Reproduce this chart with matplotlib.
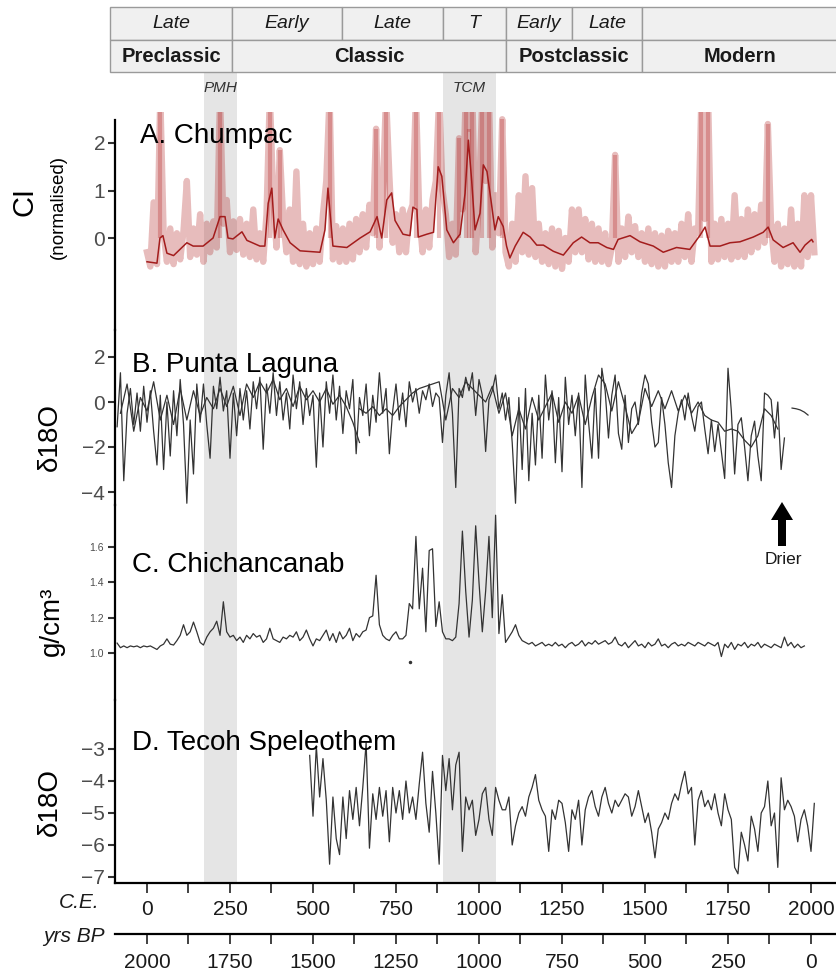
import numpy as np
import matplotlib
matplotlib.use('Agg')
import matplotlib.pyplot as plt
from matplotlib.patches import Rectangle, FancyArrow
from matplotlib.transforms import blended_transform_factory

plt.rcParams['font.family'] = ['Liberation Sans', 'DejaVu Sans']

# ---------------- data ----------------
# period table (C.E. years of the boundaries)
sub_edges = [256, 587, 892, 1081, 1280, 1491]
sub_labels = ['Late', 'Early', 'Late', 'T', 'Early', 'Late', '']
era_edges = [256, 1081, 1491]
era_labels = ['Preclassic', 'Classic', 'Postclassic', 'Modern']
event_labels = ['PMH', 'TCM']
event_spans = [(172, 271), (892, 1051)]

ce_ticks = [0, 250, 500, 750, 1000, 1250, 1500, 1750, 2000]
ce_minor = [125, 375, 625, 875, 1125, 1375, 1625, 1875]
ce_labels = ['0', '250', '500', '750', '1000', '1250', '1500', '1750', '2000']
bp_labels = ['2000', '1750', '1500', '1250', '1000', '750', '500', '250', '0']

# A. Chumpac CI, raw series every 10 years from 0 CE
chumpac_raw = [
    -0.3, -0.6, 0.75, -0.55, 3.0, 0.1, -0.5, 0.2, -0.55, 0.1,
    -0.45, 0.15, 1.2, -0.4, 0.2, -0.35, 0.5, -0.5, 0.3, -0.3,
    0.35, -0.2, 3.0, 0.3, 0.8, -0.3, 0.35, -0.25, 0.4, -0.35,
    0.3, -0.4, 0.6, -0.45, 0.1, -0.5, 0.5, 3.0, 0.9, -0.2,
    1.85, 0.4, -0.3, 0.6, -0.5, 1.4, -0.55, 0.3, -0.6, 0.1,
    -0.55, 0.2, -0.5, 0.5, 1.2, 3.0, -0.45, 0.25, -0.5, 0.2,
    -0.5, 0.3, -0.45, 0.4, -0.3, 0.5, -0.2, 0.7, 0.1, 2.3,
    -0.2, 0.9, 3.0, 1.3, -0.1, 0.5, -0.3, 0.6, -0.3, 0.5,
    0.7, 3.0, 0.5, -0.3, 0.6, -0.2, 0.8, 1.2, 3.0, 1.0,
    0.5, -0.4, 0.3, -0.35, 2.1, 0.6, 3.0, 2.3, 3.0, -0.3,
    0.8, 3.0, 1.2, 3.0, -0.2, 0.9, 0.1, 2.5, -0.3, -0.6,
    0.3, -0.5, 0.9, -0.3, 1.3, -0.35, 1.05, -0.4, 0.3, -0.5,
    0.1, -0.55, 0.2, -0.6, 0.15, -0.65, 0.0, -0.5, 0.6, -0.3,
    0.6, -0.3, 0.4, -0.45, 0.3, -0.5, 0.2, -0.5, 0.1, -0.55,
    -0.2, 1.75, -0.5, 0.2, -0.4, 0.45, -0.3, 0.25, -0.4, 0.1,
    -0.5, 0.2, -0.55, 0.1, -0.6, 0.05, -0.6, 0.15, -0.5, 0.1,
    -0.5, 0.3, -0.4, 0.5, -0.5, 0.2, 0.1, 3.0, 0.4, 3.0,
    -0.5, 0.3, -0.45, 0.4, -0.4, 0.3, -0.45, 0.9, -0.4, 0.4,
    -0.4, 0.6, -0.3, 0.5, -0.2, 0.7, -0.1, 2.4, 0.2, -0.5,
    0.3, -0.6, 0.2, -0.55, 0.6, -0.6, 0.3, -0.6, 0.9, -0.4,
    0.9, -0.3,
]
chumpac_smooth_years = [
    0, 30, 39, 48, 60, 80, 120, 139, 169, 199, 220, 235, 244, 259, 286, 301,
    340, 355, 365, 376, 385, 395, 410, 431, 461, 521, 536, 545, 560, 602, 642,
    672, 693, 707, 722, 737, 747, 771, 792, 801, 813, 817, 843, 863, 877, 888,
    903, 923, 943, 958, 968, 978, 988, 1003, 1013, 1024, 1036, 1048, 1058, 1073,
    1083, 1093, 1109, 1133, 1154, 1174, 1194, 1224, 1254, 1284, 1309, 1334, 1359,
    1385, 1405, 1419, 1455, 1485, 1525, 1555, 1595, 1635, 1666, 1681, 1696, 1726,
    1756, 1786, 1826, 1856, 1871, 1886, 1916, 1946, 1967, 1982, 2002, 2006,
]
chumpac_smooth = [
    -0.5, -0.53, 0.0, 0.05, -0.32, -0.37, -0.1, -0.17, -0.17, 0.0, 0.45, 0.45,
    0.0, -0.02, 0.13, -0.05, -0.17, -0.17, 0.73, 1.05, 0.0, 0.4, 0.17, -0.1,
    -0.27, -0.3, 0.17, 1.05, -0.17, -0.2, 0.0, 0.13, 0.45, 0.0, 0.8, 0.95, 0.37,
    0.08, 0.05, 0.65, 0.6, 0.02, 0.08, 0.12, 1.5, 1.3, 0.17, -0.1, 0.08, 0.94,
    2.06, 1.2, 0.17, 0.52, 1.54, 1.4, 0.8, 0.17, 0.45, 0.24, -0.17, -0.42, -0.17,
    0.12, 0.02, -0.15, -0.15, -0.28, -0.36, -0.1, 0.02, -0.1, -0.1, -0.2, -0.24,
    -0.03, 0.05, -0.08, -0.17, -0.3, -0.2, -0.24, 0.06, 0.23, -0.17, -0.17, -0.1,
    -0.08, 0.02, 0.12, 0.23, -0.04, -0.2, -0.1, -0.3, -0.15, -0.03, -0.08,
]

# B. Punta Laguna d18O: core 1 every 10 yr from -90, core 2 every 20 yr from -80,
# core 3 every 20 yr from 640, plus a short modern piece
pl_core1 = [
    -1.1, 1.3, -3.5, -0.5, 0.6, -1.0, 0.4, -1.3, 0.7, -0.9,
    0.5, -1.3, -2.8, 0.3, -3.0, 0.0, -2.4, 0.5, -1.5, 1.0,
    -1.0, -4.5, -0.8, -3.2, 0.8, -0.9, 0.8, -1.0, -2.5, 0.7,
    -0.3, 1.1, -0.4, 0.5, -2.5, 0.4, -1.5, 0.6, -0.8, 0.5,
    -1.2, 0.9, -0.3, 1.1, -2.1, 0.8, -0.5, 1.3, -0.6, 0.9,
    -0.8, 0.4, -1.2, 1.2, -0.3, 0.9, -1.0, 0.6, -0.6, 0.3,
    -2.9, 0.4, -2.0, 0.9, -0.5, 1.2, -0.8, 0.7, -1.4, 0.5,
    -0.3, 1.0, -2.3, 0.2, -0.6, 0.8, -1.5, 0.3, -0.9, 1.3,
    -0.5, 0.6, -2.3, -0.4, 0.8, -0.8, 0.4, -1.1, 0.9, 0.0,
    0.6, -0.5, 0.5, 0.1, 0.8, -0.2, 0.4, 0.2, -1.8, 0.3,
    1.3, -0.5, -3.8, 0.6, 0.2, 1.1, 0.5, 1.3, -0.6, 1.0,
    0.3, -2.2, 0.1, 0.5, 1.2, -0.3, 0.4, -0.8, 0.2, -1.8,
    -4.5, 0.2, -3.0, 0.6, -3.5, -0.5, -2.8, 0.3, -2.5, 1.2,
    -0.8, 0.5, -2.7, 0.2, -3.1, 1.1, -1.0, 0.3, -1.5, 0.4,
    -3.8, 1.2, -0.9, -2.5, 0.6, -2.5, 1.5, 0.5, -1.6, 0.3,
    1.2, -1.4, -2.1, 0.3, -1.8, -0.3, 0.0, -1.0, 0.4, 1.2,
    0.8, -0.9, -2.0, -1.8, 0.2, -1.0, -2.7, -3.8, -1.5, -0.5,
    0.1, -0.8, 0.4, -0.6, -1.3, -0.2, 0.0, -1.2, -2.3, -0.8,
    -2.2, -1.0, -2.2, -3.4, 1.5, -0.4, -3.2, -1.0, -0.7, -2.0,
    -3.5, -1.5, -0.85, -2.4, -3.5, 0.4, 0.3, 0.1, -1.6, 0.0,
    -3.0, -1.6,
]
pl_core2 = [
    -0.5, 0.8, -1.3, 0.2, -0.4, 0.9, -0.8, 0.3, -1.0, 0.6,
    -0.8, 0.5, -0.6, 0.2, -0.3, 0.6, -0.2, 0.7, -0.6, 0.8,
    0.2, 0.9, 0.4, 1.0, 0.1, 0.6, -0.2, 0.7, 0.1, 0.5,
    0.0, 0.6, -0.1, 0.3, -0.2, -0.9, -1.8,
]
pl_core3 = [
    -0.3, -0.5, -0.2, -0.6, -0.3, -0.6, -0.2, 0.1, 0.4, 0.6,
    0.7, 0.8, 0.9, -0.8, 0.6, 0.2, 0.9, 0.6, 0.3, 0.0,
    0.7, -0.5, 0.4, -1.5, -0.3, -1.2, 0.2, -0.8, -0.2, 0.4,
    -0.9, 0.0, -0.5, 0.3, -1.0, 0.2, 1.2, 0.8, -0.4, 0.9,
    -0.2, -1.4, -0.9, 0.6, -0.2, 0.5, -0.3, 0.5, -0.4, 0.3,
    -0.5, 0.0, -0.6, -0.8, -0.9, -1.3, -1.2, -1.3, -1.7, -2.0,
    -1.5, -0.3, -0.6, -1.2,
]
pl_modern_years = [1943, 1955, 1967, 1980, 1991]
pl_modern = [-0.27, -0.3, -0.35, -0.45, -0.58]

# C. Chichancanab density (g/cm3), every 10 yr from -90
chich = [
    1.056, 1.03, 1.04, 1.03, 1.04, 1.035, 1.04, 1.03, 1.04, 1.035,
    1.04, 1.03, 1.02, 1.04, 1.05, 1.08, 1.05, 1.045, 1.07, 1.10,
    1.16, 1.10, 1.12, 1.175, 1.12, 1.06, 1.045, 1.09, 1.12, 1.14,
    1.18, 1.10, 1.29, 1.12, 1.09, 1.10, 1.07, 1.09, 1.06, 1.10,
    1.08, 1.11, 1.09, 1.10, 1.06, 1.08, 1.14, 1.08, 1.07, 1.06,
    1.09, 1.08, 1.10, 1.09, 1.12, 1.07, 1.09, 1.13, 1.08, 1.04,
    1.08, 1.07, 1.10, 1.13, 1.07, 1.11, 1.06, 1.12, 1.08, 1.10,
    1.14, 1.07, 1.11, 1.09, 1.12, 1.13, 1.20, 1.21, 1.44, 1.16,
    1.10, 1.08, 1.07, 1.10, 1.12, 1.08, 1.08, 1.10, 1.28, 1.25,
    1.66, 1.25, 1.48, 1.12, 1.58, 1.59, 1.15, 1.29, 1.12, 1.08,
    1.08, 1.07, 1.09, 1.28, 1.69, 1.35, 1.09, 1.30, 1.72, 1.40,
    1.12, 1.35, 1.66, 1.20, 1.78, 1.11, 1.33, 1.06, 1.09, 1.12,
    1.16, 1.10, 1.07, 1.06, 1.05, 1.06, 1.04, 1.05, 1.06, 1.04,
    1.05, 1.04, 1.06, 1.04, 1.05, 1.03, 1.05, 1.06, 1.04, 1.05,
    1.07, 1.04, 1.06, 1.05, 1.07, 1.05, 1.06, 1.07, 1.05, 1.06,
    1.09, 1.05, 1.04, 1.06, 1.03, 1.05, 1.07, 1.04, 1.05, 1.03,
    1.06, 1.04, 1.05, 1.08, 1.04, 1.05, 1.03, 1.05, 1.06, 1.04,
    1.05, 1.04, 1.06, 1.05, 1.04, 1.06, 1.05, 1.04, 1.06, 1.05,
    1.04, 1.06, 0.98, 1.05, 1.03, 1.06, 1.02, 1.05, 1.04, 1.06,
    1.03, 1.05, 1.04, 1.06, 1.03, 1.05, 1.04, 1.03, 1.05, 1.04,
    1.03, 1.09, 1.04, 1.06, 1.03, 1.05, 1.03, 1.04,
]
chich_dot_year = [792]
chich_dot = [0.95]

# D. Tecoh speleothem d18O, every 10 yr from 490
tecoh = [
    -3.2, -5.1, -2.9, -4.5, -3.3, -4.6, -6.6, -4.5, -5.8, -6.3,
    -4.5, -5.8, -4.3, -5.2, -4.2, -5.4, -4.2, -2.8, -6.1, -4.4,
    -5.2, -4.2, -5.1, -4.3, -5.9, -4.2, -5.0, -4.3, -5.2, -4.0,
    -5.0, -4.5, -5.2, -4.1, -3.1, -4.7, -5.6, -3.7, -5.0, -6.6,
    -3.2, -4.3, -3.3, -4.9, -3.5, -3.1, -6.2, -4.5, -4.9, -4.6,
    -5.7, -5.2, -4.4, -4.2, -5.2, -5.7, -4.2, -4.6, -4.9, -4.9,
    -4.5, -6.0, -5.4, -5.0, -4.8, -5.1, -4.5, -4.2, -3.8, -4.6,
    -4.9, -5.1, -6.2, -4.9, -5.2, -4.6, -4.7, -5.3, -6.2, -4.9,
    -5.2, -4.6, -6.0, -4.9, -4.5, -4.3, -4.8, -5.1, -4.5, -4.2,
    -4.7, -5.0, -4.6, -4.8, -4.6, -4.4, -4.5, -5.1, -4.8, -4.3,
    -4.8, -5.3, -5.0, -5.6, -6.4, -5.5, -5.3, -5.0, -5.2, -4.7,
    -4.4, -4.6, -4.1, -3.7, -4.4, -4.2, -6.0, -4.6, -4.3, -4.8,
    -4.6, -4.9, -4.4, -5.0, -5.4, -4.4, -4.9, -5.2, -6.7, -6.9,
    -5.6, -6.0, -6.5, -5.1, -5.5, -6.2, -5.0, -4.8, -4.0, -5.4,
    -5.0, -6.7, -3.9, -4.9, -4.6, -4.8, -5.1, -5.9, -5.2, -4.9,
    -5.4, -6.2, -4.7,
]

# ---------------- layout helpers (pixel space of the 837x977 image) ----------------
W, H = 837, 977
PX0, PPY = 147, 0.332          # pixel of year 0 and pixels per year


def yr(px):
    return (px - PX0) / PPY


def rect(x0, y0, x1, y1):
    return [x0 / W, 1 - y1 / H, (x1 - x0) / W, (y1 - y0) / H]


def lim(v0, p0, v1, p1, top, bot):
    s = (v1 - v0) / (p1 - p0)
    return v0 + (bot - p0) * s, v0 + (top - p0) * s


XL = (yr(115), yr(W))
INK = '#1a1a1a'
LINE = '#333333'

fig = plt.figure(figsize=(W / 100, H / 100), dpi=100)


def ftext(x, y, s, **kw):
    return fig.text(x / W, 1 - y / H, s, **kw)


# shaded events behind everything
bg = fig.add_axes(rect(115, 72, W, 883), zorder=0)
bg.set_xlim(XL)
bg.set_ylim(0, 1)
bg.axis('off')
tr = blended_transform_factory(bg.transData, fig.transFigure)
for (a, b), lab in zip(event_spans, event_labels):
    bg.axvspan(a, b, color='#e5e5e5', lw=0)
    bg.text((a + b) / 2, 1 - 88 / H, lab, transform=tr, ha='center', va='center',
            style='italic', fontsize=11, color=LINE)

# period table
tab = fig.add_axes(rect(110, 7, W, 72), zorder=2)
tab.set_xlim(yr(110), yr(W))
tab.set_ylim(0, 2)
tab.axis('off')
edges = [yr(110)] + sub_edges + [yr(W) + 5]
for i, lab in enumerate(sub_labels):
    a, b = edges[i], edges[i + 1]
    tab.add_patch(Rectangle((a, 1), b - a, 1, fc='#f0f0f0', ec='#9a9a9a', lw=1, clip_on=False))
    tab.text((a + b) / 2, 1.5, lab, ha='center', va='center', style='italic', fontsize=14, color=INK)
edges = [yr(110)] + era_edges + [yr(W) + 5]
for i, lab in enumerate(era_labels):
    a, b = edges[i], edges[i + 1]
    tab.add_patch(Rectangle((a, 0), b - a, 1, fc='#f0f0f0', ec='#9a9a9a', lw=1, clip_on=False))
    tab.text((a + b) / 2, 0.48, lab, ha='center', va='center', fontweight='bold', fontsize=14.5, color=INK)

# stacked panels
panel_px = [(112, 330), (330, 505), (505, 700), (700, 883)]
panel_lims = [lim(0, 238, 2, 143, *panel_px[0]),
              lim(0, 402, -4, 492, *panel_px[1]),
              lim(1.0, 653, 1.6, 547, *panel_px[2]),
              lim(-3, 749, -7, 877, *panel_px[3])]
panel_ticks = [[0, 1, 2], [-4, -2, 0, 2], [1.0, 1.2, 1.4, 1.6], [-7, -6, -5, -4, -3]]
axes = []
for (top, bot), yl, tk in zip(panel_px, panel_lims, panel_ticks):
    ax = fig.add_axes(rect(115, top, W, bot), zorder=1)
    ax.patch.set_alpha(0)
    ax.set_xlim(XL)
    ax.set_ylim(yl)
    for s in ('top', 'right', 'bottom'):
        ax.spines[s].set_visible(False)
    ax.spines['left'].set_linewidth(1.6)
    ax.spines['left'].set_color('black')
    ax.set_xticks([])
    ax.set_yticks(tk)
    ax.tick_params(axis='y', direction='out', length=5, width=1.5, color=LINE,
                   labelsize=15, labelcolor='#4d4d4d', pad=2)
    axes.append(ax)
axA, axB, axC, axD = axes
axA.spines['left'].set_bounds(panel_lims[0][0], lim(0, 238, 2, 143, 120, 330)[1])

# A. Chumpac: raw record as a translucent band, peaks re-inked, smoothed record on top
raw_years = np.arange(len(chumpac_raw)) * 10
raw_vals = np.array(chumpac_raw)
axA.plot(raw_years, raw_vals, color='#b22222', alpha=0.3, lw=4.6,
         solid_joinstyle='round')
peak = raw_vals > 1.5
axA.vlines(raw_years[peak], 0, raw_vals[peak], color='#b22222', alpha=0.3, lw=3)
axA.plot(chumpac_smooth_years, chumpac_smooth, color='#a31c1c', lw=1.1)

# B. Punta Laguna
axB.plot(-90 + np.arange(len(pl_core1)) * 10, pl_core1, color=LINE, lw=0.9)
axB.plot(-80 + np.arange(len(pl_core2)) * 20, pl_core2, color=LINE, lw=0.9)
axB.plot(640 + np.arange(len(pl_core3)) * 20, pl_core3, color=LINE, lw=0.9)
axB.plot(pl_modern_years, pl_modern, color=LINE, lw=0.9)

# C. Chichancanab
axC.plot(-90 + np.arange(len(chich)) * 10, chich, color=LINE, lw=0.9)
axC.plot(chich_dot_year, chich_dot, 'o', ms=1.5, color=LINE)
axC.set_yticklabels(['%.1f' % t for t in panel_ticks[2]])
axC.tick_params(axis='y', labelsize=7.5, length=5, pad=3)

# D. Tecoh
axD.plot(490 + np.arange(len(tecoh)) * 10, tecoh, color=LINE, lw=0.9)
axD.spines['bottom'].set_visible(True)
axD.spines['bottom'].set_linewidth(1.6)
axD.spines['bottom'].set_color('black')
axD.set_xticks(ce_ticks)
axD.set_xticklabels(ce_labels)
axD.set_xticks(ce_minor, minor=True)
axD.tick_params(axis='x', which='both', direction='out', length=7, width=1.3,
                color=LINE, labelsize=15, labelcolor=INK, pad=5)

# second time axis (yrs BP)
bp = fig.add_axes(rect(115, 933, W, 934), zorder=1)
bp.patch.set_alpha(0)
bp.set_xlim(XL)
for s in ('top', 'right', 'left'):
    bp.spines[s].set_visible(False)
bp.spines['bottom'].set_linewidth(1.6)
bp.set_yticks([])
bp.set_xticks(ce_ticks)
bp.set_xticklabels(bp_labels)
bp.set_xticks(ce_minor, minor=True)
bp.tick_params(axis='x', which='both', direction='out', length=7, width=1.3,
               color=LINE, labelsize=15, labelcolor=INK, pad=7)

# panel titles
for ax_y, x0, txt in [(143, 140, 'A. Chumpac'), (372, 132, 'B. Punta Laguna'),
                      (572, 132, 'C. Chichancanab'), (750, 132, 'D. Tecoh Speleothem')]:
    ftext(x0, ax_y, txt, fontsize=20, color='black', va='baseline', zorder=5)

# y-axis titles
ftext(24, 201, 'CI', fontsize=21, rotation=90, ha='center', va='center')
ftext(58, 207, '(normalised)', fontsize=13.5, rotation=90, ha='center', va='center')
ftext(50, 437, 'δ18O', fontsize=20, rotation=90, ha='center', va='center')
ftext(52, 621, 'g/cm³', fontsize=20, rotation=90, ha='center', va='center')
ftext(50, 802, 'δ18O', fontsize=20, rotation=90, ha='center', va='center')

# axis captions
ftext(99, 903, 'C.E.', fontsize=15, style='italic', ha='right', va='center', color=INK)
ftext(105, 936, 'yrs BP', fontsize=15, style='italic', ha='right', va='center', color=INK)

# "Drier" arrow
fig.patches.append(FancyArrow(782 / W, 1 - 546 / H, 0, (546 - 502) / H, width=8 / W,
                              head_width=22 / W, head_length=18 / H,
                              length_includes_head=True, transform=fig.transFigure,
                              color='black', lw=0))
ftext(783, 560, 'Drier', fontsize=12.5, ha='center', va='center', color=INK)

fig.savefig('out.png', dpi=100, facecolor='white')
